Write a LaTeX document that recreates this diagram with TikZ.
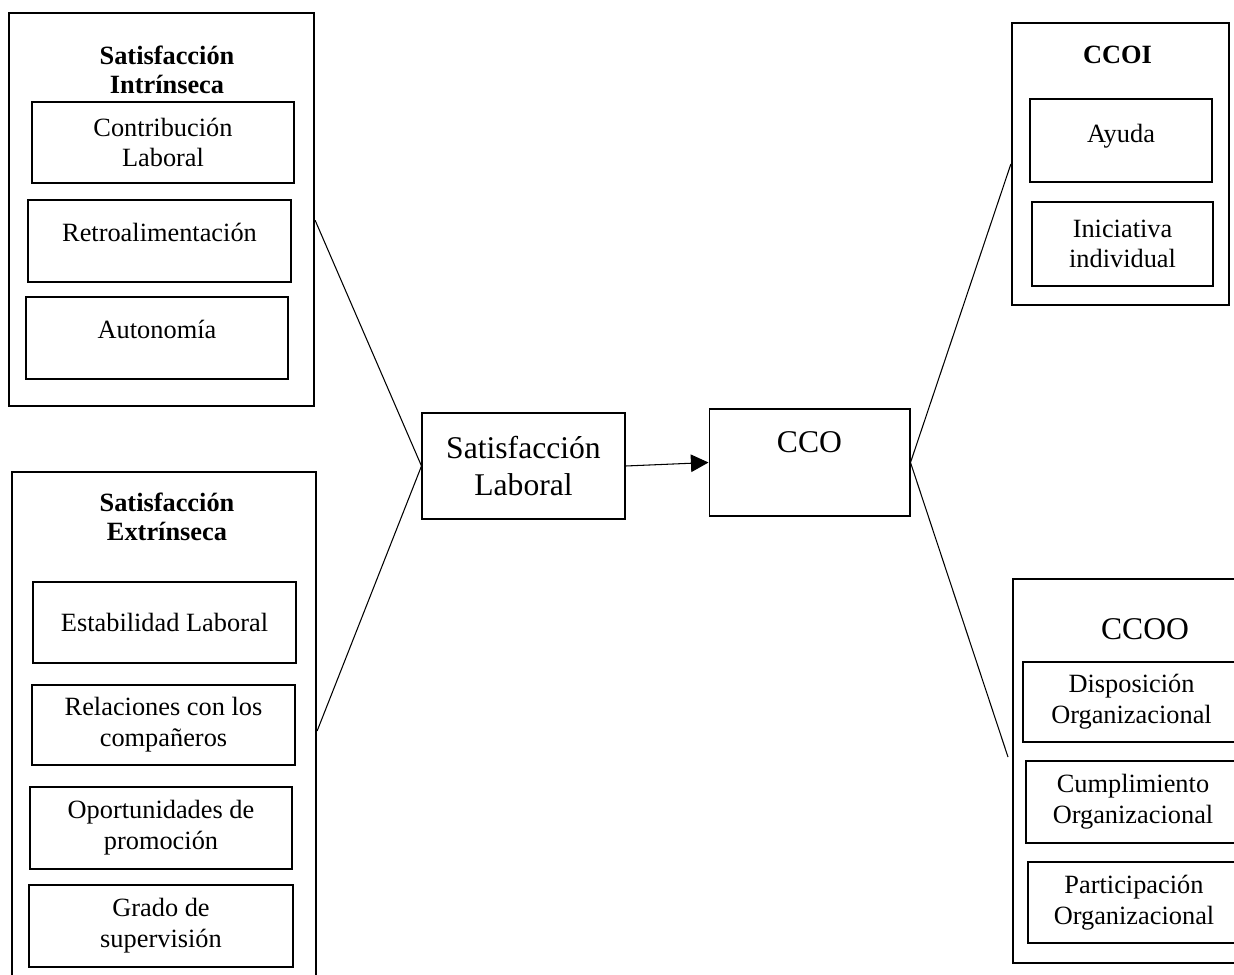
\documentclass[tikz,border=0pt]{standalone}
\usepackage{fontspec}
\setmainfont{Liberation Serif}
\usepackage{tikz}
\usetikzlibrary{positioning,arrows.meta}

\begin{document}
\begin{tikzpicture}[x=0.02cm, y=-0.02cm,
  outerbox/.style={rectangle, draw, line width=1.3pt},
  itembox/.style={rectangle, draw, line width=1.3pt, align=center, font=\fontsize{15}{17.5}\selectfont},
  mainbox/.style={rectangle, draw, line width=0.6pt, align=center, font=\fontsize{18}{21.5}\selectfont},
  headtxt/.style={align=center, inner sep=0pt, font=\fontsize{15}{16.5}\selectfont\bfseries},
  bigtxt/.style={inner sep=0pt, font=\fontsize{18}{21.5}\selectfont},
  link/.style={line width=0.6pt}]
  \useasboundingbox (0,0) rectangle (1234,974);
  \clip (0,0) rectangle (1234,974);

  % intrinsic satisfaction
  \node[outerbox, minimum width=6.1cm, minimum height=7.86cm] (intr) at (161.5,209.5) {};
  \node[headtxt] (intrt) at (167,69.5) {Satisfacción\\Intrínseca};
  \node[itembox, minimum width=5.24cm, minimum height=1.62cm] (contrib) at (163,142.5) {Contribución\\Laboral};
  \node[itembox, minimum width=5.26cm, minimum height=1.64cm, text depth=0.34cm] (retro) at (159.5,241) {Retroalimentación};
  \node[itembox, minimum width=5.24cm, minimum height=1.64cm, text depth=0.34cm] (auton) at (157,338) {Autonomía};

  % extrinsic satisfaction
  \node[outerbox, minimum width=6.08cm, minimum height=10.36cm] (extr) at (164,731) {};
  \node[headtxt] (extrt) at (167,517) {Satisfacción\\Extrínseca};
  \node[itembox, minimum width=5.26cm, minimum height=1.62cm] (estab) at (164.5,622.5) {Estabilidad Laboral};
  \node[itembox, minimum width=5.26cm, minimum height=1.6cm] (relac) at (163.5,725) {Relaciones con los\\compañeros};
  \node[itembox, minimum width=5.24cm, minimum height=1.64cm] (oport) at (161,828) {Oportunidades de\\promoción};
  \node[itembox, minimum width=5.28cm, minimum height=1.64cm] (grado) at (161,926) {Grado de\\supervisión};

  % centre
  \node[mainbox, minimum width=4.06cm, minimum height=2.12cm] (sl) at (523.5,466) {Satisfacción\\Laboral};
  \node[mainbox, minimum width=4.02cm, minimum height=2.14cm] (cco) at (809.5,462.5) {};
  \node[bigtxt] (ccot) at (809.5,442.5) {CCO};

  % CCOI
  \node[outerbox, minimum width=4.34cm, minimum height=5.64cm] (ccoi) at (1120.5,164) {};
  \node[headtxt] (ccoit) at (1117.5,55) {CCOI};
  \node[itembox, minimum width=3.64cm, minimum height=1.66cm, text depth=0.28cm] (ayuda) at (1121,140.5) {Ayuda};
  \node[itembox, minimum width=3.62cm, minimum height=1.68cm] (inic) at (1122.5,244) {Iniciativa\\individual};

  % CCOO
  \node[outerbox, minimum width=4.74cm, minimum height=7.68cm] (ccoo) at (1131.5,771) {};
  \node[bigtxt] (ccoot) at (1145,629) {CCOO};
  \node[itembox, minimum width=4.34cm, minimum height=1.6cm] (dispo) at (1131.5,702) {Disposición\\Organizacional};
  \node[itembox, minimum width=4.28cm, minimum height=1.64cm] (cumpl) at (1133,802) {Cumplimiento\\Organizacional};
  \node[itembox, minimum width=4.24cm, minimum height=1.62cm] (parti) at (1134,902.5) {Participación\\Organizacional};
  \coordinate (ccooend) at (1008,757);

  \draw[link] (intr.-4.8) -- (sl.west);
  \draw[link] (extr.east) -- (sl.west);
  \draw[link, -{Triangle[length=10pt, width=10pt]}] (sl.east) -- (cco.west);
  \draw[link] (cco.east) -- (ccoi.west);
  \draw[link] (cco.east) -- (ccooend);
\end{tikzpicture}
\end{document}
